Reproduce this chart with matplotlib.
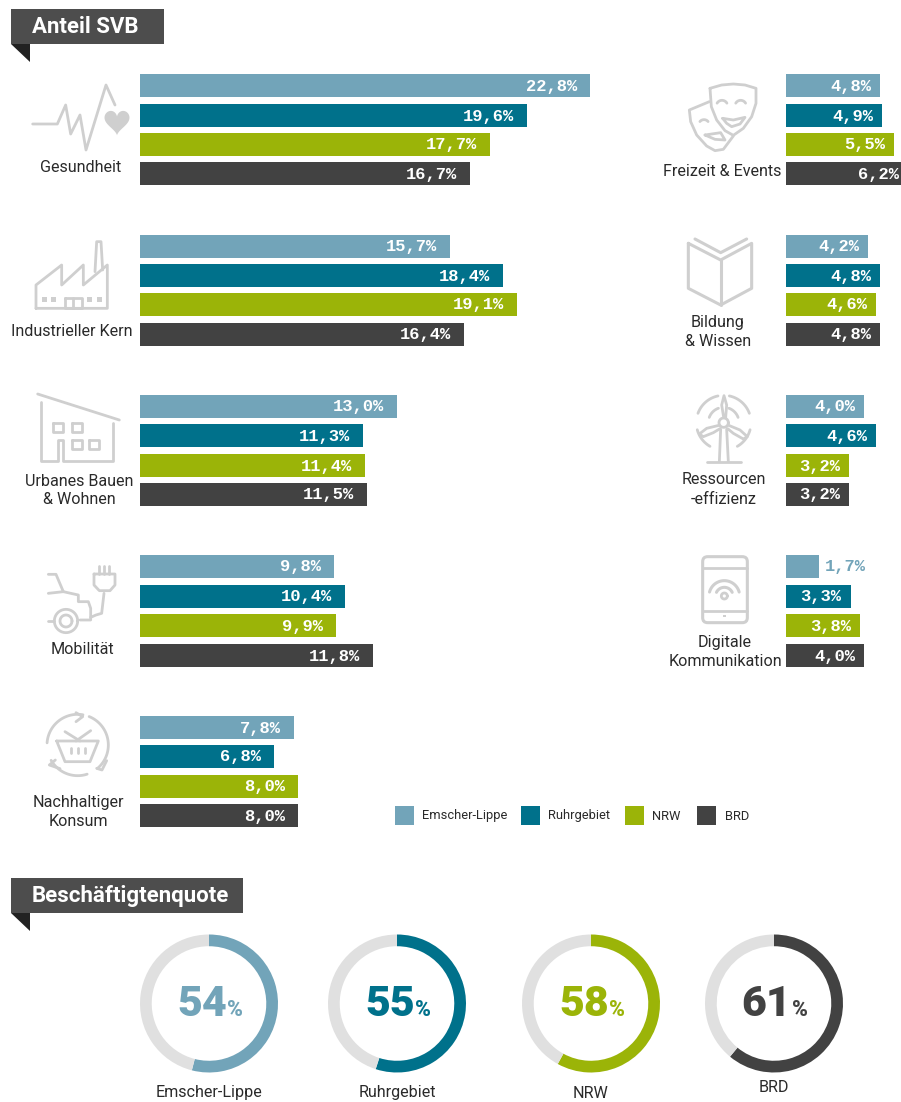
import numpy as np
import matplotlib
matplotlib.use('Agg')
import matplotlib.pyplot as plt
from matplotlib.patches import Polygon, FancyBboxPatch, Rectangle

# Data
regions = ['Emscher-Lippe', 'Ruhrgebiet', 'NRW', 'BRD']
colors = ['#72a4b9', '#00718b', '#9bb408', '#424242']

gesundheit = [22.8, 19.6, 17.7, 16.7]
industrie = [15.7, 18.4, 19.1, 16.4]
urban = [13.0, 11.3, 11.4, 11.5]
mobilitaet = [9.8, 10.4, 9.9, 11.8]
konsum = [7.8, 6.8, 8.0, 8.0]
freizeit = [4.8, 4.9, 5.5, 6.2]
bildung = [4.2, 4.8, 4.6, 4.8]
ressourcen = [4.0, 4.6, 3.2, 3.2]
digital = [1.7, 3.3, 3.8, 4.0]
quote = [54, 55, 58, 61]

# layout in pixels
W, H = 901, 1102
GRAY = '#cfcfcf'
TXT = '#2a2a2a'
LIGHT = ['Roboto', 'Liberation Sans']
MONO = 'Liberation Mono'

fig = plt.figure(figsize=(W / 100, H / 100), dpi=100)
ax = fig.add_axes([0, 0, 1, 1])
ax.set_xlim(0, W)
ax.set_ylim(H, 0)
ax.axis('off')


def bars(vals, left, tops, scale, pad):
    for v, t, c in zip(vals, tops, colors):
        ax.barh(t + 11.5, v * scale, height=23, left=left, color=c, linewidth=0)
        s = f'{v:.1f}%'.replace('.', ',')
        end = left + v * scale
        if v * scale < 40:
            ax.text(end + 5, t + 12, s, color=c, ha='left', va='center',
                    family=MONO, weight='bold', fontsize=12.3)
        else:
            ax.text(min(end - pad, 899), t + 12, s, color='white', ha='right', va='center',
                    family=MONO, weight='bold', fontsize=12.3)


row1 = [74, 104, 133, 162]
row2 = [235, 264, 293, 323]
row3 = [395, 424, 454, 483]
row4 = [555, 585, 614, 644]
row5 = [716, 745, 775, 804]

bars(gesundheit, 140, row1, 19.75, 13)
bars(industrie, 140, row2, 19.75, 13)
bars(urban, 140, row3, 19.75, 13)
bars(mobilitaet, 140, row4, 19.75, 13)
bars(konsum, 140, row5, 19.75, 13)
bars(freizeit, 786, row1, 19.6, 9)
bars(bildung, 786, row2, 19.6, 9)
bars(ressourcen, 786, row3, 19.6, 9)
bars(digital, 786, row4, 19.6, 9)


# category labels
def label(x, y, s):
    ax.text(x, y + 1, s, ha='center', va='center', family=LIGHT,
            fontsize=11.6, color=TXT)


label(81, 167, 'Gesundheit')
label(72, 330, 'Industrieller Kern')
label(79, 480, 'Urbanes Bauen')
label(79, 499, '& Wohnen')
label(82, 649, 'Mobilität')
label(78, 802, 'Nachhaltiger')
label(78, 821, 'Konsum')
label(722, 170, 'Freizeit & Events')
label(718, 321, 'Bildung')
label(718, 341, '& Wissen')
label(724, 478, 'Ressourcen')
label(724, 498, '-effizienz')
label(725, 641, 'Digitale')
label(725, 660, 'Kommunikation')


# section headers
def header(w, y, s):
    ax.add_patch(Rectangle((11, y), w, 35, color='#4d4d4d', lw=0))
    ax.add_patch(Polygon([(11, y + 35), (30, y + 35), (30, y + 53)], color='#222222', lw=0))
    ax.text(32, y + 18, s, color='white', ha='left', va='center',
            family='Roboto', weight='bold', fontsize=16)


header(153, 9, 'Anteil SVB')
header(232, 878, 'Beschäftigtenquote')

# legend
for x, tx, c, r in zip([395, 521, 625, 697], [422, 548, 652, 725], colors, regions):
    ax.add_patch(Rectangle((x, 806), 19, 19, color=c, lw=0))
    ax.text(tx, 816, r, ha='left', va='center', family='Roboto', fontsize=9.3, color=TXT)


# icons, coordinates taken from a 3x view of the picture
def ln(pts, ox, oy, lw=2.0):
    p = np.array(pts, dtype=float) / 3 + [ox, oy]
    ax.plot(p[:, 0], p[:, 1], color=GRAY, lw=lw, solid_capstyle='round', solid_joinstyle='round')


def arc(cx, cy, r, a0, a1, ox, oy, lw=2.0):
    t = np.radians(np.linspace(a0, a1, 40))
    ln(np.c_[cx + r * np.cos(t), cy - r * np.sin(t)], ox, oy, lw)


def ring(cx, cy, r, ox, oy, lw=2.0):
    arc(cx, cy, r, 0, 360, ox, oy, lw)


def box(x0, y0, x1, y1, ox, oy, fill=False):
    if fill:
        ax.add_patch(Rectangle((x0 / 3 + ox, y0 / 3 + oy), (x1 - x0) / 3, (y1 - y0) / 3, color=GRAY, lw=0))
    else:
        ln([(x0, y0), (x1, y0), (x1, y1), (x0, y1), (x0, y0)], ox, oy)


# Gesundheit
ln([(98, 372), (172, 372), (197, 315), (212, 402), (240, 345), (258, 450), (318, 255), (345, 315)], 0, 0)
t = np.linspace(0, 2 * np.pi, 80)
hx = 117 + 12.5 * np.sin(t) ** 3
hy = 121 - 0.85 * (13 * np.cos(t) - 5 * np.cos(2 * t) - 2 * np.cos(3 * t) - np.cos(4 * t))
ax.add_patch(Polygon(np.c_[hx, hy], color=GRAY, lw=0))

# Freizeit
ln([(180, 85), (215, 75), (250, 72), (285, 75), (318, 85), (318, 130), (305, 170), (280, 205), (250, 226),
    (225, 212), (200, 180), (184, 140), (180, 85)], 650, 60)
ln([(178, 125), (118, 150), (122, 185), (140, 225), (170, 258), (195, 272), (220, 268), (250, 228)], 650, 60)
arc(216, 138, 17, 30, 150, 650, 60)
arc(272, 138, 17, 30, 150, 650, 60)
ln([(218, 175), (250, 180), (285, 172), (270, 192), (245, 200), (230, 190), (218, 175)], 650, 60)
arc(162, 195, 16, 40, 140, 650, 60)
ln([(165, 225), (212, 218), (225, 240), (195, 238), (165, 225)], 650, 60)

# Bildung
ln([(115, 550), (212, 600), (305, 550), (305, 685), (212, 735), (115, 685), (115, 550)], 650, 60, 2.2)
ln([(212, 600), (212, 735)], 650, 60, 2.2)
ln([(135, 537), (212, 578), (290, 537)], 650, 60, 2.2)

# Ressourcen
ring(221, 128, 14, 650, 380)
ln([(221, 112), (215, 75), (222, 47), (230, 75), (227, 112)], 650, 380)
ln([(207, 136), (170, 145), (148, 162), (160, 170), (190, 158), (210, 146)], 650, 380)
ln([(236, 136), (270, 150), (292, 170), (280, 177), (250, 160), (233, 146)], 650, 380)
ln([(212, 148), (208, 245)], 650, 380)
ln([(230, 148), (235, 245)], 650, 380)
ln([(170, 245), (272, 245)], 650, 380)
for a0, a1 in [(20, 78), (102, 160), (195, 240), (300, 345)]:
    arc(221, 128, 82, a0, a1, 650, 380)
for a0, a1 in [(20, 70), (110, 160)]:
    arc(221, 128, 46, a0, a1, 650, 380)

# Digital
ax.add_patch(FancyBboxPatch((158 / 3 + 650, 530 / 3 + 380), 134 / 3, 198 / 3,
                            boxstyle='round,pad=0,rounding_size=5', fc='none', ec=GRAY, lw=2.2))
ln([(158, 565), (292, 565)], 650, 380)
ln([(158, 692), (292, 692)], 650, 380)
arc(223, 648, 46, 15, 165, 650, 380, 2.2)
arc(223, 648, 26, 25, 155, 650, 380, 2.2)
ring(223, 648, 9, 650, 380, 2.0)
box(219, 705, 227, 712, 650, 380, fill=True)

# Industrie
ln([(108, 265), (108, 195), (185, 135), (185, 195), (250, 135), (250, 195), (322, 135), (322, 265), (108, 265)], 0, 220)
ln([(285, 155), (290, 65), (303, 65), (308, 150)], 0, 220)
for x0 in [125, 152, 262, 290]:
    box(x0, 230, x0 + 15, 245, 0, 220, fill=True)
box(195, 235, 245, 265, 0, 220)
ln([(220, 235), (220, 265)], 0, 220)

# Urban
ln([(113, 522), (358, 600)], 0, 220)
ln([(122, 545), (122, 722), (175, 722), (175, 660), (190, 660), (190, 722), (338, 722), (338, 610)], 0, 220)
box(160, 608, 190, 637, 0, 220)
box(215, 608, 245, 637, 0, 220)
box(215, 660, 245, 688, 0, 220)
box(268, 660, 298, 688, 0, 220)

# Mobilitaet
ln([(145, 103), (168, 103), (190, 155), (145, 160)], 0, 540)
ln([(190, 155), (235, 165), (235, 185), (265, 185), (272, 205), (272, 240), (240, 240)], 0, 540)
ring(198, 243, 35, 0, 540)
ring(198, 243, 18, 0, 540)
ln([(145, 243), (163, 243)], 0, 540)
ln([(272, 232), (288, 225), (305, 220), (312, 160)], 0, 540)
ln([(282, 102), (345, 102), (345, 135), (330, 152), (298, 152), (282, 135), (282, 102)], 0, 540)
for x0 in [298, 312, 328]:
    ln([(x0, 78), (x0, 102)], 0, 540)

# Konsum
arc(233, 615, 92, 80, 176, 0, 540)
arc(233, 615, 92, -50, 68, 0, 540)
arc(233, 615, 92, -150, -72, 0, 540)
ln([(228, 518), (248, 530), (228, 545)], 0, 540)
ln([(290, 685), (306, 690), (320, 662)], 0, 540)
ln([(166, 660), (148, 675), (180, 686)], 0, 540)
ln([(170, 603), (295, 603), (270, 665), (195, 665), (170, 603)], 0, 540)
ln([(195, 575), (240, 603)], 0, 540)
ln([(272, 572), (228, 603)], 0, 540)
for x0 in [213, 233, 255]:
    ln([(x0, 625), (x0, 638)], 0, 540)

# donuts
centers = [209, 397, 591, 774]
num_x = [177, 365, 559, 741]
pct_x = [227, 415, 609, 792]
lab_y = [1093, 1093, 1093, 1087]
for v, cx, nx, px, ly, c, r in zip(quote, centers, num_x, pct_x, lab_y, colors, regions):
    d = fig.add_axes([(cx - 69) / W, 1 - (1072.5 / H), 138 / W, 138 / H])
    d.pie([v, 100 - v], colors=[c, '#e0e0e0'], startangle=90, counterclock=False, radius=1,
          wedgeprops={'width': 0.17, 'linewidth': 0})
    d.set_xlim(-1, 1)
    d.set_ylim(-1, 1)
    ax.text(nx, 1016, str(v), color=c, ha='left', va='baseline', family='Roboto', weight='black', fontsize=31)
    ax.text(px, 1016, '%', color=c, ha='left', va='baseline', family='Roboto', weight='black', fontsize=15.5)
    ax.text(cx, ly, r, color=TXT, ha='center', va='center', family=LIGHT, fontsize=11.6)

fig.savefig('out.png', dpi=100)
